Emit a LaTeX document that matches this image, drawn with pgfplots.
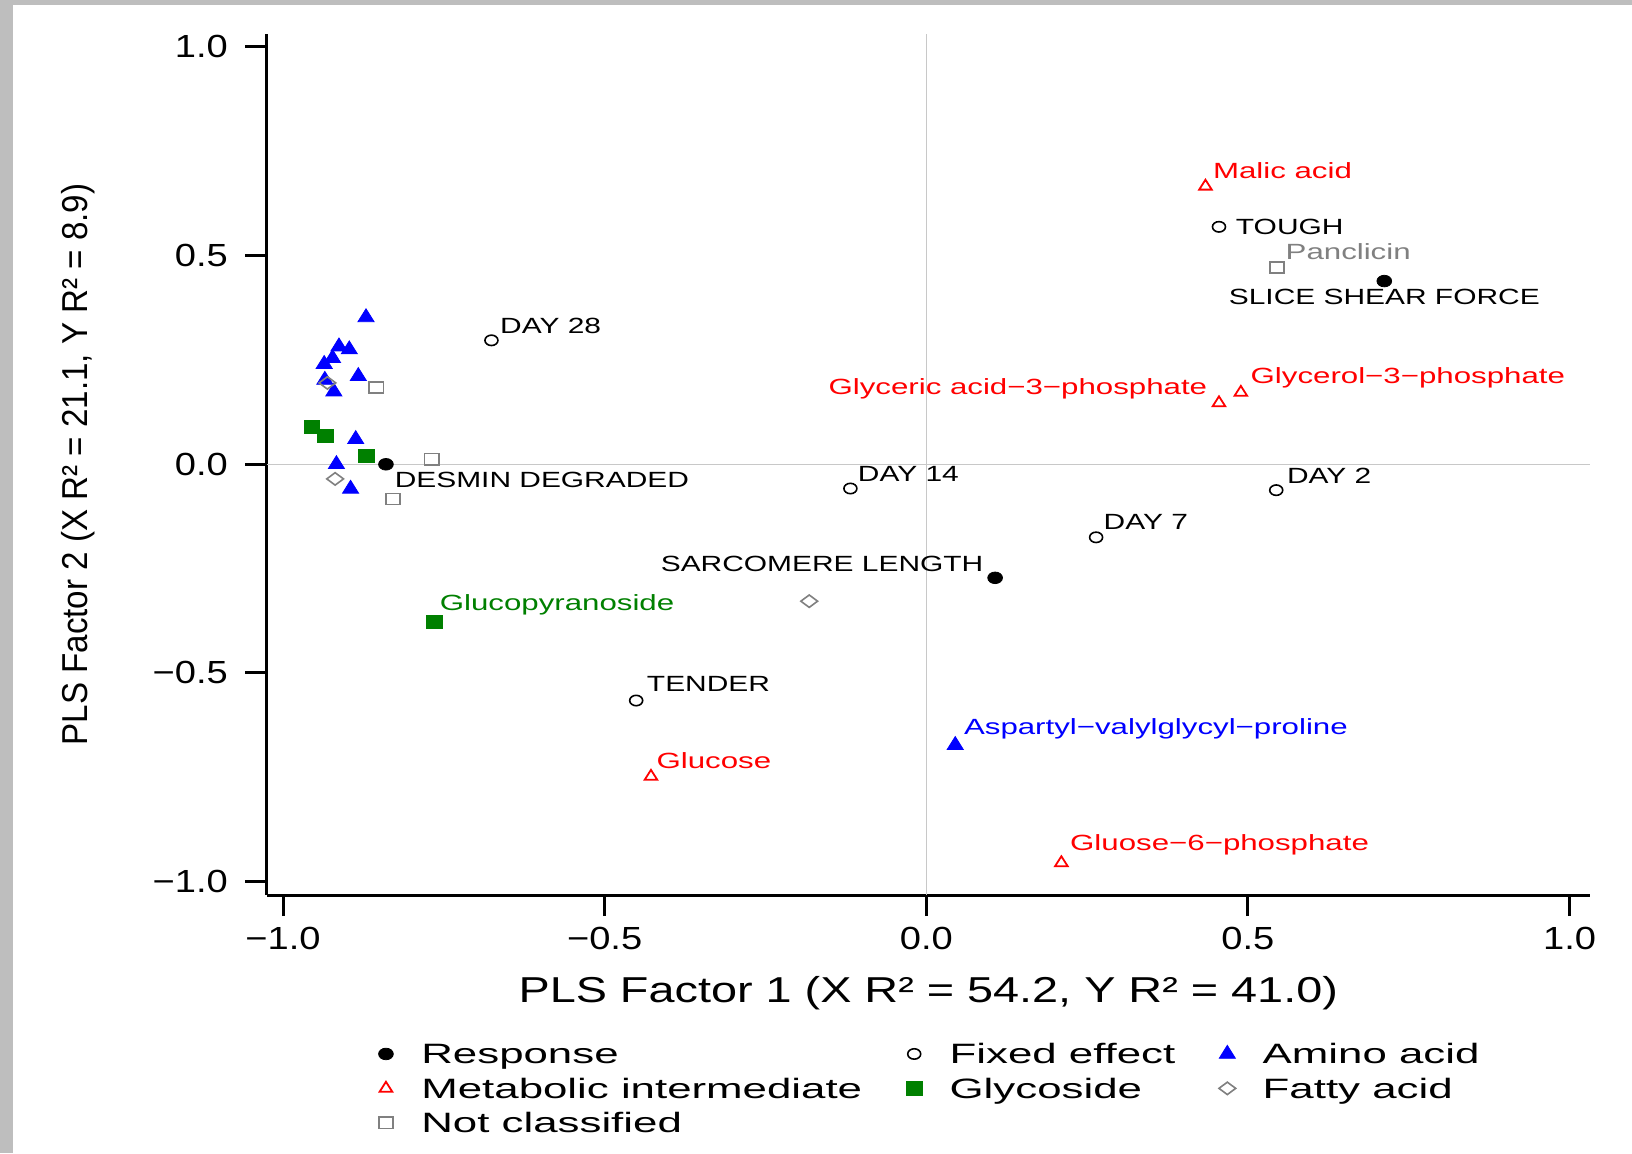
\documentclass[border=0pt]{standalone}
\usepackage{pgfplots}
\pgfplotsset{compat=1.18}
\usepackage{fontspec}
\setmainfont{Liberation Sans}
\newfontfamily\tickfont[FakeStretch=1.19]{Liberation Sans}
\newfontfamily\xlabfont[FakeStretch=1.30]{Liberation Sans}
\newfontfamily\ylabfont[FakeStretch=0.92]{Liberation Sans}
\newfontfamily\legfont[FakeStretch=1.565]{Liberation Sans}
\newfontfamily\ptfont[FakeStretch=1.42]{Liberation Sans}
\newfontfamily\capfont[FakeStretch=1.36]{Liberation Sans}
\definecolor{dgreen}{RGB}{0,128,0}
\definecolor{mgray}{RGB}{128,128,128}
\definecolor{zgray}{RGB}{200,200,200}
\definecolor{bgray}{RGB}{190,190,190}
\tikzset{lab/.style={inner sep=0pt, text height=7.9pt, text depth=0pt, font=\ptfont\fontsize{11}{13}\selectfont},
 ulab/.style={inner sep=0pt, text height=7.9pt, text depth=0pt, font=\capfont\fontsize{11}{13}\selectfont}}
\begin{document}
\begin{tikzpicture}
\useasboundingbox (0,0) rectangle (816pt,576.5pt);
\fill[white] (0,0) rectangle (816pt,576.5pt);
\fill[bgray] (0,0) rectangle (6.5pt,576.5pt);
\fill[bgray] (0,574pt) rectangle (816pt,576.5pt);
\begin{axis}[
 at={(133.25pt,129pt)}, anchor=south west,
 scale only axis, width=661.75pt, height=430.5pt,
 xmin=-1.0257, xmax=1.0318, ymin=-1.032, ymax=1.031,
 axis x line*=bottom, axis y line*=left,
 axis line style={line width=1.5pt, -},
 clip=false,
 xtick={-1,-0.5,0,0.5,1}, xticklabels={−1.0,−0.5,0.0,0.5,1.0},
 ytick={-1,-0.5,0,0.5,1}, yticklabels={−1.0,−0.5,0.0,0.5,1.0},
 tick align=outside, major tick length=10.5pt,
 every tick/.style={line width=1.5pt, black},
 xticklabel style={font=\tickfont\fontsize{16}{18}\selectfont, inner sep=0pt, anchor=center, yshift=-11.2pt},
 yticklabel style={font=\tickfont\fontsize{16}{18}\selectfont, inner sep=0pt, anchor=east, xshift=-8.6pt},
 xlabel={PLS Factor 1 (X R² = 54.2, Y R² = 41.0)},
 ylabel={PLS Factor 2 (X R² = 21.1, Y R² = 8.9)},
 xlabel style={font=\xlabfont\fontsize{18}{20}\selectfont, at={(axis description cs:0.5,-0.1137)}, anchor=center, inner sep=0pt},
 ylabel style={font=\ylabfont\fontsize{18}{20}\selectfont, at={(axis description cs:-0.1424,0.5)}, anchor=center, inner sep=0pt},
 legend columns=3,
 legend cell align=left,
 legend style={draw=none, fill=none, inner sep=0pt, outer sep=0pt,
   at={(0.0827,-0.173)}, anchor=north west,
   font=\legfont\fontsize{14}{16}\selectfont,
   nodes={inner sep=0pt, text height=10pt, text depth=3pt},
   row sep=4.2pt,
   /tikz/every odd column/.append style={column sep=12.7pt},
   /tikz/every even column/.append style={column sep=21pt}},
 legend image code/.code={\path[draw=none, fill=none] (-5pt,-5pt) rectangle (5pt,5pt); \draw[#1] plot coordinates {(0pt,1.5pt)};},
]
\draw[zgray, line width=0.6pt] (axis cs:0,-1.032) -- (axis cs:0,1.031);
\draw[zgray, line width=0.6pt] (axis cs:-1.0257,0) -- (axis cs:1.0318,0);

\addplot[only marks, mark=*, black, mark size=2.9pt, mark options={xscale=1.27}]
 coordinates {(0.712,0.439) (-0.840,0.0) (0.107,-0.272)};
\addlegendentry{Response}
\addplot[only marks, mark=o, black, mark size=2.6pt, mark options={xscale=1.25, line width=0.8pt}]
 coordinates {(0.455,0.569) (-0.676,0.297) (-0.118,-0.058) (0.544,-0.062) (0.264,-0.175) (-0.451,-0.566)};
\addlegendentry{Fixed effect}
\addplot[only marks, mark=triangle*, blue, mark size=4.3pt, mark options={xscale=1.08}]
 coordinates {(-0.871,0.352) (-0.913,0.282) (-0.897,0.275) (-0.923,0.254) (-0.936,0.240) (-0.883,0.211) (-0.935,0.202) (-0.921,0.174) (-0.887,0.060) (-0.917,0.000) (-0.895,-0.059) (0.045,-0.673)};
\addlegendentry{Amino acid}
\addplot[only marks, mark=triangle, red, mark size=3.3pt, mark options={xscale=1.1, line width=0.9pt}]
 coordinates {(0.434,0.666) (0.455,0.147) (0.489,0.172) (-0.428,-0.748) (0.210,-0.955)};
\addlegendentry{Metabolic intermediate}
\addplot[only marks, mark=square*, dgreen, mark size=3.3pt, mark options={xscale=1.2}]
 coordinates {(-0.765,-0.377) (-0.955,0.090) (-0.934,0.068) (-0.870,0.020)};
\addlegendentry{Glycoside}
\addplot[only marks, mark=diamond, mgray, mark size=3.1pt, mark options={xscale=1.8, line width=0.8pt}]
 coordinates {(-0.931,0.195) (-0.919,-0.035) (-0.182,-0.328)};
\addlegendentry{Fatty acid}
\addplot[only marks, mark=square, mgray, mark size=2.8pt, mark options={xscale=1.27, line width=0.8pt}]
 coordinates {(0.545,0.472) (-0.855,0.184) (-0.769,0.012) (-0.829,-0.083)};
\addlegendentry{Not classified}

\node[lab, anchor=west, red, xshift=3.6pt, yshift=7.8pt] at (axis cs:0.434,0.666) {Malic acid};
\node[ulab, anchor=west, xshift=8.3pt] at (axis cs:0.455,0.569) {TOUGH};
\node[lab, anchor=west, mgray, xshift=4.2pt, yshift=7.8pt] at (axis cs:0.545,0.472) {Panclicin};
\node[ulab, anchor=center, yshift=-7.8pt] at (axis cs:0.712,0.439) {SLICE SHEAR FORCE};
\node[ulab, anchor=west, xshift=4.2pt, yshift=7.3pt] at (axis cs:-0.676,0.297) {DAY 28};
\node[lab, anchor=east, red, xshift=-5.7pt, yshift=8.3pt] at (axis cs:0.455,0.147) {Glyceric acid−3−phosphate};
\node[lab, anchor=west, red, xshift=4.7pt, yshift=8.3pt] at (axis cs:0.489,0.172) {Glycerol−3−phosphate};
\node[ulab, anchor=west, xshift=4.2pt, yshift=-7.8pt] at (axis cs:-0.840,0) {DESMIN DEGRADED};
\node[ulab, anchor=west, xshift=3.6pt, yshift=7.3pt] at (axis cs:-0.118,-0.058) {DAY 14};
\node[ulab, anchor=west, xshift=5.2pt, yshift=7.3pt] at (axis cs:0.544,-0.062) {DAY 2};
\node[ulab, anchor=west, xshift=3.6pt, yshift=7.8pt] at (axis cs:0.264,-0.175) {DAY 7};
\node[ulab, anchor=east, xshift=-5.7pt, yshift=7.3pt] at (axis cs:0.107,-0.272) {SARCOMERE LENGTH};
\node[lab, anchor=west, dgreen, xshift=2.6pt, yshift=9.4pt] at (axis cs:-0.765,-0.377) {Glucopyranoside};
\node[ulab, anchor=west, xshift=5.2pt, yshift=8.3pt] at (axis cs:-0.451,-0.566) {TENDER};
\node[lab, anchor=west, blue, xshift=4.2pt, yshift=9.4pt] at (axis cs:0.045,-0.673) {Aspartyl−valylglycyl−proline};
\node[lab, anchor=west, red, xshift=2.6pt, yshift=7.8pt] at (axis cs:-0.428,-0.748) {Glucose};
\node[lab, anchor=west, red, xshift=4.2pt, yshift=9.9pt] at (axis cs:0.210,-0.955) {Gluose−6−phosphate};
\end{axis}
\end{tikzpicture}
\end{document}
